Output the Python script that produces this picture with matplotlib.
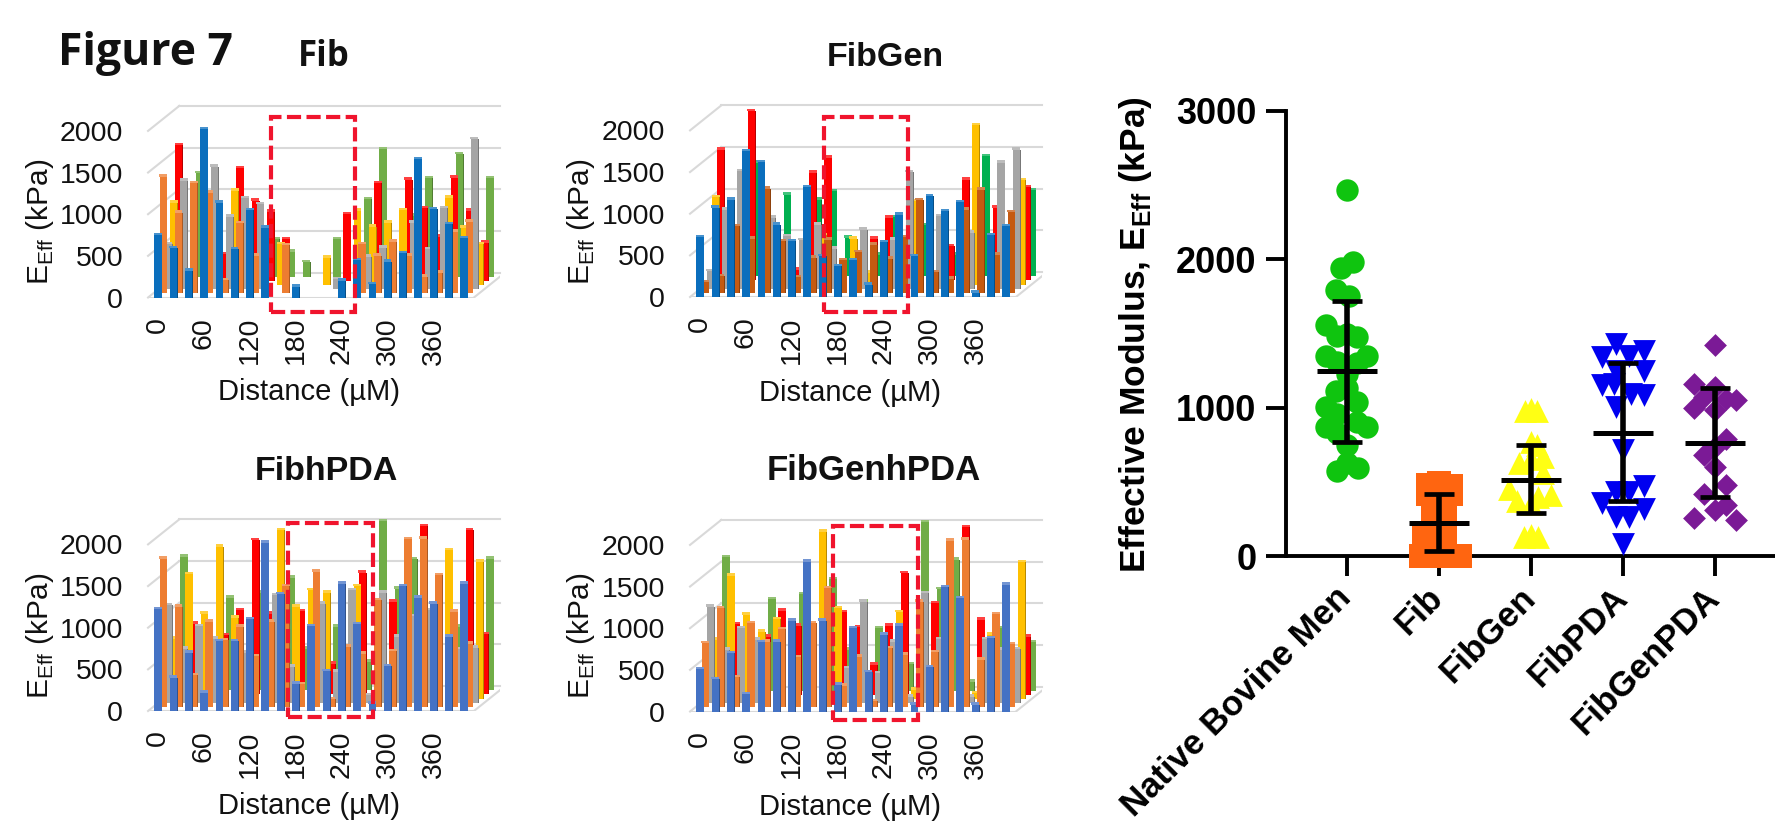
import matplotlib
matplotlib.use('Agg')
import matplotlib.pyplot as plt
from matplotlib.patches import Rectangle

W, H = 1775, 839

# bar values per panel, kPa, 0 means no bar visible
fib_blue = [750,590,320,2020,1140,580,1050,840,0,130,0,0,200,450,160,430,530,1660,1060,880,710]
fib_orange = [1400,970,1320,1210,155,840,450,0,580,0,0,0,0,590,450,620,450,200,250,740,860]
fib_gray = [540,1300,0,1470,870,1090,1020,0,0,0,0,120,0,390,500,0,800,480,970,0,1800]
fib_yellow = [990,0,0,0,1130,0,0,490,0,0,330,0,890,700,750,900,0,0,1050,690,490]
fib_red = [1630,0,0,320,1350,960,830,500,0,0,0,800,0,1170,0,1215,870,530,1240,840,455]
fib_green = [0,1240,0,0,0,0,450,300,175,0,450,0,930,1530,0,730,1180,0,1470,0,1180]

gen_blue = [720,1070,1170,1750,1620,870,670,1320,490,370,440,150,660,990,490,1210,1030,1140,50,740,850]
gen_orange = [130,200,800,650,1250,620,185,420,640,390,490,580,410,670,1110,250,170,1000,1240,460,970]
gen_gray = [210,950,1410,0,850,630,580,770,480,0,710,0,590,1400,0,870,0,670,0,1510,1670]
gen_yellow = [1050,0,0,0,0,0,0,590,0,550,140,0,0,1000,0,0,0,1910,0,0,1250]
gen_red = [1570,0,2030,0,0,130,1290,1470,0,0,500,750,0,810,0,410,1210,0,870,0,1120]
gen_green = [0,0,1360,0,980,0,920,1020,460,0,260,710,0,610,0,260,0,1440,0,0,1030]

pda_blue = [1220,400,700,220,840,840,1100,2020,1400,330,1020,480,1530,1040,90,540,1500,1360,1290,890,1530]
pda_orange = [1780,1200,380,1020,800,960,610,1020,1450,270,1620,90,720,640,1280,670,2010,2020,1580,1140,760]
pda_gray = [1170,650,920,770,0,600,0,1290,430,0,1190,370,1350,90,1320,790,1040,1110,0,640,660]
pda_yellow = [720,1490,1020,1820,970,0,0,2020,1100,1300,1270,0,1350,0,0,0,0,0,1780,0,1640]
pda_red = [0,850,0,710,1010,1850,970,0,1000,0,370,0,1460,0,1110,0,2020,0,0,1970,720]
pda_green = [1600,0,0,1110,0,1170,0,1350,500,0,760,0,340,2030,1220,1570,0,0,760,0,1580]

gpda_blue = [510,390,700,210,830,840,1090,1800,1090,320,1000,470,920,1030,80,530,1490,1360,80,880,1520]
gpda_orange = [770,1190,360,1010,790,940,600,1010,1430,260,610,75,710,630,1270,660,2000,2010,570,1120,760]
gpda_gray = [1160,640,900,760,0,0,0,0,0,420,1220,360,740,80,1320,770,0,80,770,640,650]
gpda_yellow = [710,1480,1010,810,960,0,0,2010,1090,0,0,40,1040,110,0,0,0,70,770,0,1640]
gpda_red = [0,850,0,700,1010,830,0,0,990,810,360,830,1460,0,1100,0,2010,900,0,0,700]
gpda_green = [1600,0,0,1100,0,1160,0,1340,490,1070,750,0,320,2020,1220,1570,110,0,750,0,580]

dist_ticks = [0, 3, 6, 9, 12, 15, 18]
dist_labels = ['0', '60', '120', '180', '240', '300', '360']
y_ticks = [0, 500, 1000, 1500, 2000]

# scatter panel: offset from the category centre, and value
groups = ['Native Bovine Men', 'Fib', 'FibGen', 'FibPDA', 'FibGenPDA']
native_off = [0,.07,-.06,-.12,.02,-.23,-.11,.11,-.23,.22,0,-.11,.11,0,-.12,0,.11,-.23,-.11,.11,-.23,.22,-.11,0,0,.12,-.11]
native_val = [2470,1980,1940,1790,1750,1560,1480,1475,1345,1345,1500,1310,1300,1230,1110,1130,1035,1005,960,905,870,870,830,750,625,595,570]
fib_off = [-.12,0,.13,-.12,.13,-.06,.06,-.06,.06,-.16,.06,-.2,-.08,.01,.13,.23,0]
fib_val = [480,490,470,420,420,355,355,290,270,120,130,0,0,0,0,0,90]
gen_off = [-.06,.06,0,0,.06,.13,-.13,0,.13,-.24,.22,-.15,0,.08,-.08,.08,0]
gen_val = [980,980,990,770,750,670,625,655,560,455,410,370,350,400,130,130,140]
pda_off = [-.08,.23,-.23,.07,.23,-.08,-.23,-.1,.23,.09,-.08,0,.23,-.08,.07,-.23,.23,-.08,.07,0]
pda_val = [1430,1385,1340,1350,1250,1250,1150,1160,1085,1095,1005,715,470,430,430,360,320,265,265,80]
gpda_off = [0,-.23,0,-.12,.12,.23,-.23,0,.12,-.12,0,0,.12,-.12,.12,0,-.23,.23]
gpda_val = [1420,1160,1140,1075,1060,1050,995,985,790,680,735,600,480,415,345,310,255,245]

means = [1250, 225, 515, 830, 765]
err_low = [770, 35, 290, 370, 400]
err_high = [1720, 415, 750, 1300, 1130]

plt.rcParams['font.family'] = ['Liberation Sans', 'DejaVu Sans']
plt.rcParams['mathtext.fontset'] = 'custom'
plt.rcParams['mathtext.rm'] = 'Liberation Sans'
plt.rcParams['mathtext.bf'] = 'Liberation Sans:bold'

fig = plt.figure(figsize=(W / 100, H / 100), dpi=100)


def px_axes(left, right, top, bottom):
    return fig.add_axes([left / W, 1 - bottom / H, (right - left) / W, (bottom - top) / H])


def shade(col, f):
    rgb = matplotlib.colors.to_rgb(col)
    if f < 1:
        return tuple(c * f for c in rgb)
    return tuple(c + (1 - c) * (f - 1) for c in rgb)


def bar_panel(x0, floor, series, colors):
    # fake excel 3D columns, one depth row per series, back row first
    cat = 15.3
    kpa = 0.0833
    xl = -0.65
    xr = 20.65
    xend = 22.35
    dx = 0.34
    dy = 50
    ax = px_axes(x0 + xl * cat, x0 + xend * cat, floor - 2400 * kpa, floor)
    ax.set_xlim(xl, xend)
    ax.set_ylim(0, 2400)
    for s in ax.spines.values():
        s.set_visible(False)
    grid = '#d9d9d9'
    for v in y_ticks:
        ax.plot([xl, xl + 6 * dx], [v, v + 6 * dy], color=grid, lw=1.5, clip_on=False, zorder=1)
        ax.plot([xl + 6 * dx, xend], [v + 6 * dy, v + 6 * dy], color=grid, lw=1.5, clip_on=False, zorder=1)
    ax.plot([xl, xr], [0, 0], color=grid, lw=1.5, zorder=1)
    ax.plot([xr, xr + 6 * dx], [0, 6 * dy], color=grid, lw=1.5, zorder=1)
    z = 2
    for k in range(5, -1, -1):
        vals = series[k]
        col = colors[k]
        xs = [i + k * dx for i, v in enumerate(vals) if v > 0]
        vs = [v for v in vals if v > 0]
        base = [k * dy] * len(vs)
        tops = [k * dy + v for v in vs]
        ax.bar([x + 0.22 for x in xs], vs, bottom=base, width=0.12, color=shade(col, 0.72), zorder=z, clip_on=False)
        ax.bar(xs, [30] * len(vs), bottom=tops, width=0.52, color=shade(col, 1.25), zorder=z, clip_on=False)
        ax.bar(xs, vs, bottom=base, width=0.48, color=col, zorder=z + 0.5, clip_on=False)
        z += 1
    ax.set_xticks(dist_ticks)
    ax.set_xticklabels(dist_labels, rotation=90, fontsize=20.5, color='#111111')
    ax.set_yticks(y_ticks)
    ax.set_yticklabels([str(v) for v in y_ticks], fontsize=20.5, color='#111111')
    ax.tick_params(axis='x', length=0, pad=14)
    ax.tick_params(axis='y', length=0, pad=18)
    ax.patch.set_alpha(0)
    return ax


def red_box(left, right, top, bottom):
    fig.add_artist(Rectangle((left / W, 1 - bottom / H), (right - left) / W, (bottom - top) / H,
                             transform=fig.transFigure, fill=False, edgecolor='#f0142d',
                             lw=3, linestyle=(0, (3.4, 1.3)), zorder=20))


def label(x, y, s, **kw):
    fig.text(x / W, 1 - y / H, s, ha='center', va='center', **kw)


cols_a = ['#0a6ebd', '#ed7d31', '#a5a5a5', '#ffc000', '#ff0000', '#70ad47']
cols_b = ['#0a6ebd', '#c55a11', '#a5a5a5', '#ffc000', '#ff0000', '#00b050']
cols_c = ['#4472c4', '#ed7d31', '#a5a5a5', '#ffc000', '#ff0000', '#70ad47']

bar_panel(158, 297.5, [fib_blue, fib_orange, fib_gray, fib_yellow, fib_red, fib_green], cols_a)
bar_panel(700, 297, [gen_blue, gen_orange, gen_gray, gen_yellow, gen_red, gen_green], cols_b)
bar_panel(158, 711, [pda_blue, pda_orange, pda_gray, pda_yellow, pda_red, pda_green], cols_c)
bar_panel(700, 711.5, [gpda_blue, gpda_orange, gpda_gray, gpda_yellow, gpda_red, gpda_green], cols_c)

red_box(271, 355, 117, 312)
red_box(824, 908, 117, 312)
red_box(288, 373, 523, 717)
red_box(833, 918, 526, 720)

# panel texts
label(145, 53, 'Figure 7', fontsize=32, fontweight='bold', family='Open Sans', color='#111111')
label(324, 57, 'Fib', fontsize=25, fontweight='bold', family='Open Sans', color='#111111')
label(885, 58, 'FibGen', fontsize=24.5, fontweight='bold', color='#111111')
label(326, 472, 'FibhPDA', fontsize=24.5, fontweight='bold', color='#111111')
label(874, 471, 'FibGenhPDA', fontsize=25, fontweight='bold', color='#111111')

for x, y in [(309, 392), (850, 393), (309, 806), (850, 807)]:
    label(x, y, 'Distance (µM)', fontsize=21, color='#111111')
for x, y in [(40, 222), (581, 222), (40, 636), (581, 636)]:
    label(x, y, r'E$_{\mathrm{Eff}}$ (kPa)', fontsize=21.5, rotation=90, color='#111111')

# scatter panel on the right
ax = px_axes(1286.4, 1775, 111, 556)
ax.set_xlim(1 - 60.6 / 92, 1 + 428 / 92)
ax.set_ylim(0, 3000)
marks = [('o', '#0fc40f', 260), ('s', '#ff6510', 280), ('^', '#ffff14', 270), ('v', '#0000f0', 270), ('D', '#7b1a96', 135)]
offs = [native_off, fib_off, gen_off, pda_off, gpda_off]
vals = [native_val, fib_val, gen_val, pda_val, gpda_val]
for i in range(5):
    m, c, s = marks[i]
    ax.scatter([i + 1 + o for o in offs[i]], vals[i], marker=m, color=c, s=s, linewidths=0, clip_on=False, zorder=3)
pos = [1, 2, 3, 4, 5]
ax.errorbar(pos, means, yerr=[[m - l for m, l in zip(means, err_low)], [h - m for m, h in zip(means, err_high)]],
            fmt='none', ecolor='black', elinewidth=4, capsize=11, capthick=3.4, zorder=5)
ax.hlines(means, [p - 0.33 for p in pos], [p + 0.33 for p in pos], color='black', lw=3.6, zorder=5)
for s in ['top', 'right']:
    ax.spines[s].set_visible(False)
for s in ['left', 'bottom']:
    ax.spines[s].set_linewidth(2.8)
ax.set_xticks(pos)
ax.set_xticklabels([])
# group names placed by hand, tick label transforms get reset when drawing
for p, g in zip(pos, groups):
    ax.annotate(g, xy=(p, 0), xytext=(-9, -18), textcoords='offset points', rotation=45, ha='right', va='top',
                rotation_mode='anchor', fontsize=25, fontweight='bold', annotation_clip=False)
ax.set_yticks([0, 1000, 2000, 3000])
ax.set_yticklabels(['0', '1000', '2000', '3000'], fontsize=26, fontweight='bold')
ax.tick_params(axis='both', width=2.8, length=14.5)
ax.tick_params(axis='y', pad=7)
ax.patch.set_alpha(0)
label(1136, 335, r'Effective Modulus, E$_{\mathbf{Eff}}$ (kPa)', fontsize=25.5, fontweight='bold', rotation=90)

fig.savefig('out.png', dpi=100)
